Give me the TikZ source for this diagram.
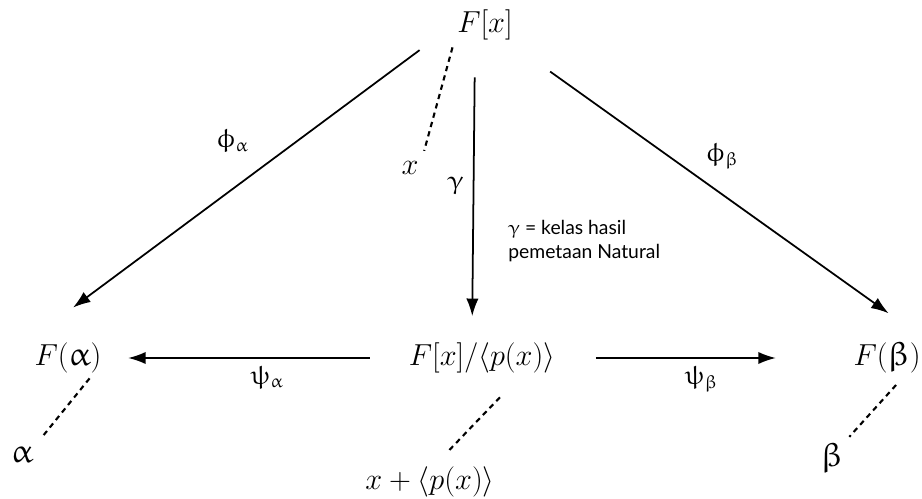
\documentclass[tikz,border=0pt]{standalone}
\usepackage{fontspec}
\usepackage{upgreek}
\newfontfamily\notefont{Lato}
\usetikzlibrary{arrows.meta, positioning}

\begin{document}
\begin{tikzpicture}[
        x=0.02cm, y=-0.02cm,
        obj/.style={inner sep=2pt, font=\fontsize{19}{22}\selectfont},
        lbl/.style={inner sep=1pt, font=\fontsize{15}{18}\selectfont},
        note/.style={inner sep=0pt, align=left, font=\notefont\fontsize{11}{13.5}\selectfont},
        arrow/.style={line width=1pt, -{Latex[length=10pt, width=7pt]}},
        link/.style={line width=1.2pt, dash pattern=on 3pt off 2.5pt}
        ]
        \useasboundingbox (0,0) rectangle (922,499);

        % objects
        \node[obj] (fx) at (485,25) {$F[x]$};
        \node[obj] (fa) at (68,358) {$F(\upalpha)$};
        \node[obj] (fq) at (482,358) {$F[x]/\langle p(x)\rangle$};
        \node[obj] (fb) at (887,358) {$F(\upbeta)$};

        % elements
        \node[obj] (xl) at (410,168) {$x$};
        \node[obj] (al) at (22,455) {$\upalpha$};
        \node[obj] (be) at (832,458) {$\upbeta$};
        \node[obj] (xr) at (430,482) {$x+\langle p(x)\rangle$};

        % maps
        \draw[arrow, shorten <=24pt, shorten >=30pt] (fx.west) -- node[lbl, pos=0.37, left=26pt] {$\upphi_{\upalpha}$} (fa.north west);
        \draw[arrow, shorten <=27pt, shorten >=25pt] (fx) -- node[lbl, pos=0.38, right=20pt] {$\upphi_{\upbeta}$} (fb.north east);
        \draw[arrow, shorten <=19pt, shorten >=13pt] ([xshift=-0.2cm]fx.south) -- node[lbl, pos=0.48, left=4pt] {$\upgamma$} ([xshift=-0.2cm]fq.north);
        \draw[arrow, shorten <=20pt, shorten >=13pt] (fq.west) -- node[lbl, pos=0.46, below=3pt] {$\uppsi_{\upalpha}$} (fa.east);
        \draw[arrow, shorten <=21pt, shorten >=42pt] (fq.east) -- node[lbl, pos=0.49, below=3pt] {$\uppsi_{\upbeta}$} (fb.west);

        % element links
        \draw[link, shorten <=2pt, shorten >=4pt] (fx.south west) -- (xl.north east);
        \draw[link, shorten <=1pt, shorten >=5pt] (fa.-40) -- (al.north east);
        \draw[link, shorten <=16pt, shorten >=8pt] (fq.-27) -- (xr.70);
        \draw[link, shorten <=6pt, shorten >=2pt] (fb.-50) -- (be.north east);

        \node[note, anchor=north west] (nt) at (508,220) {$\upgamma$ = kelas hasil\\pemetaan Natural};
\end{tikzpicture}
\end{document}
